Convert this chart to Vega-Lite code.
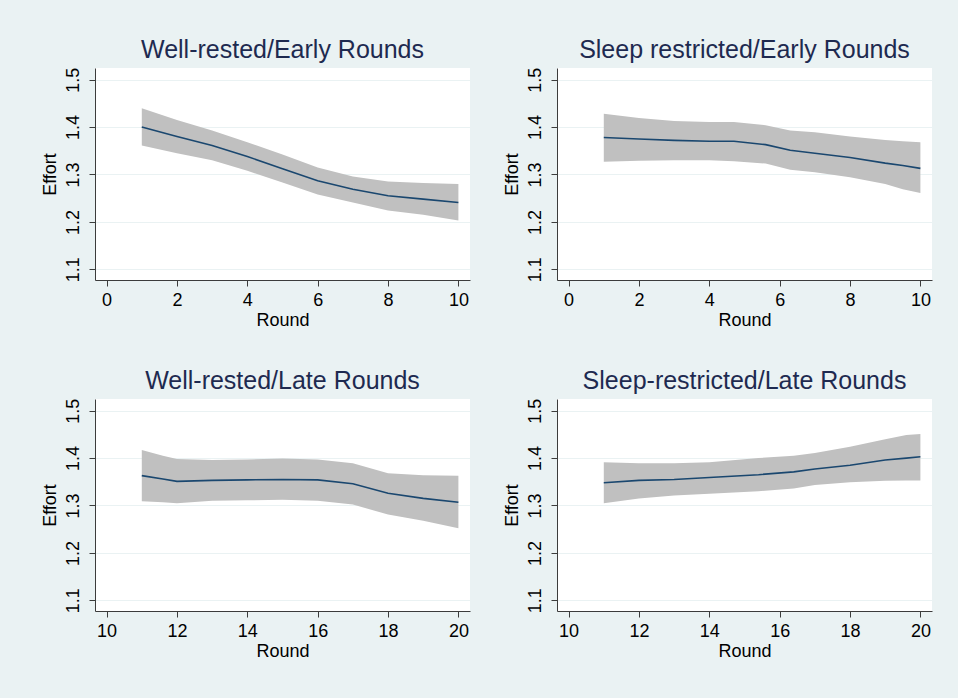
{
  "$schema": "https://vega.github.io/schema/vega-lite/v6.json",
  "background": "#eaf2f3",
  "padding": {"left": 41, "top": 38, "right": 26, "bottom": 40},
  "autosize": {"type": "pad"},
  "datasets": {
    "d": [
      {"panel": "WE", "round": 1, "fit": 1.400, "lo": 1.361, "hi": 1.440},
      {"panel": "WE", "round": 2, "fit": 1.380, "lo": 1.345, "hi": 1.415},
      {"panel": "WE", "round": 3, "fit": 1.361, "lo": 1.330, "hi": 1.393},
      {"panel": "WE", "round": 4, "fit": 1.338, "lo": 1.308, "hi": 1.368},
      {"panel": "WE", "round": 5, "fit": 1.312, "lo": 1.283, "hi": 1.342},
      {"panel": "WE", "round": 6, "fit": 1.287, "lo": 1.258, "hi": 1.315},
      {"panel": "WE", "round": 7, "fit": 1.269, "lo": 1.241, "hi": 1.296},
      {"panel": "WE", "round": 8, "fit": 1.255, "lo": 1.224, "hi": 1.285},
      {"panel": "WE", "round": 9, "fit": 1.248, "lo": 1.215, "hi": 1.282},
      {"panel": "WE", "round": 10, "fit": 1.241, "lo": 1.203, "hi": 1.280},

      {"panel": "SE", "round": 1, "fit": 1.378, "lo": 1.327, "hi": 1.428},
      {"panel": "SE", "round": 2, "fit": 1.375, "lo": 1.329, "hi": 1.419},
      {"panel": "SE", "round": 3, "fit": 1.372, "lo": 1.330, "hi": 1.413},
      {"panel": "SE", "round": 4, "fit": 1.370, "lo": 1.330, "hi": 1.411},
      {"panel": "SE", "round": 4.7, "fit": 1.370, "lo": 1.328, "hi": 1.411},
      {"panel": "SE", "round": 5.6, "fit": 1.363, "lo": 1.323, "hi": 1.404},
      {"panel": "SE", "round": 6.3, "fit": 1.351, "lo": 1.310, "hi": 1.393},
      {"panel": "SE", "round": 7, "fit": 1.345, "lo": 1.305, "hi": 1.389},
      {"panel": "SE", "round": 8, "fit": 1.336, "lo": 1.294, "hi": 1.380},
      {"panel": "SE", "round": 9, "fit": 1.324, "lo": 1.280, "hi": 1.373},
      {"panel": "SE", "round": 9.5, "fit": 1.319, "lo": 1.269, "hi": 1.370},
      {"panel": "SE", "round": 10, "fit": 1.313, "lo": 1.261, "hi": 1.368},

      {"panel": "WL", "round": 11, "fit": 1.363, "lo": 1.309, "hi": 1.417},
      {"panel": "WL", "round": 11.6, "fit": 1.356, "lo": 1.307, "hi": 1.405},
      {"panel": "WL", "round": 12, "fit": 1.351, "lo": 1.305, "hi": 1.398},
      {"panel": "WL", "round": 13, "fit": 1.353, "lo": 1.310, "hi": 1.396},
      {"panel": "WL", "round": 14, "fit": 1.354, "lo": 1.311, "hi": 1.397},
      {"panel": "WL", "round": 15, "fit": 1.355, "lo": 1.312, "hi": 1.399},
      {"panel": "WL", "round": 16, "fit": 1.354, "lo": 1.310, "hi": 1.397},
      {"panel": "WL", "round": 17, "fit": 1.346, "lo": 1.302, "hi": 1.389},
      {"panel": "WL", "round": 18, "fit": 1.326, "lo": 1.281, "hi": 1.368},
      {"panel": "WL", "round": 19, "fit": 1.315, "lo": 1.268, "hi": 1.364},
      {"panel": "WL", "round": 20, "fit": 1.307, "lo": 1.252, "hi": 1.363},

      {"panel": "SL", "round": 11, "fit": 1.348, "lo": 1.305, "hi": 1.391},
      {"panel": "SL", "round": 12, "fit": 1.353, "lo": 1.315, "hi": 1.389},
      {"panel": "SL", "round": 13, "fit": 1.355, "lo": 1.321, "hi": 1.389},
      {"panel": "SL", "round": 14, "fit": 1.359, "lo": 1.325, "hi": 1.391},
      {"panel": "SL", "round": 15.4, "fit": 1.365, "lo": 1.330, "hi": 1.400},
      {"panel": "SL", "round": 16.4, "fit": 1.371, "lo": 1.336, "hi": 1.405},
      {"panel": "SL", "round": 17, "fit": 1.377, "lo": 1.343, "hi": 1.411},
      {"panel": "SL", "round": 18, "fit": 1.385, "lo": 1.349, "hi": 1.424},
      {"panel": "SL", "round": 19, "fit": 1.396, "lo": 1.352, "hi": 1.440},
      {"panel": "SL", "round": 19.6, "fit": 1.400, "lo": 1.353, "hi": 1.449},
      {"panel": "SL", "round": 20, "fit": 1.403, "lo": 1.353, "hi": 1.451}
    ]
  },
  "config": {
    "font": "Liberation Sans",
    "view": {"stroke": null, "fill": "white"},
    "axis": {
      "domainColor": "#3c3c3c",
      "tickColor": "#3c3c3c",
      "tickSize": 6,
      "labelFontSize": 18,
      "titleFontSize": 18,
      "labelColor": "#000000",
      "titleColor": "#000000",
      "titleFontWeight": "normal",
      "labelFlush": false,
      "labelOverlap": false
    },
    "axisX": {"grid": false, "labelPadding": 5, "titlePadding": 2},
    "axisY": {"grid": true, "gridColor": "#eaf2f3", "gridWidth": 1.2, "labelAngle": 270, "labelAlign": "center", "labelBaseline": "bottom", "labelPadding": 7, "titlePadding": 5},
    "title": {"fontSize": 25, "color": "#1e2a50", "fontWeight": "normal", "anchor": "middle", "offset": 4}
  },
  "columns": 2,
  "spacing": {"row": 40, "column": 33},
  "concat": [
    {
      "width": 375, "height": 212,
      "title": "Well-rested/Early Rounds",
      "data": {"name": "d"},
      "transform": [{"filter": "datum.panel == 'WE'"}],
      "encoding": {"x": {"field": "round", "type": "quantitative", "scale": {"domain": [-0.33, 10.33], "nice": false, "zero": false}, "axis": {"values": [0, 2, 4, 6, 8, 10], "title": "Round"}}},
      "layer": [
        {"mark": {"type": "area", "color": "#c0c0c0", "opacity": 1}, "encoding": {"y": {"field": "lo", "type": "quantitative", "scale": {"domain": [1.0774, 1.5247], "nice": false, "zero": false}, "axis": {"values": [1.1, 1.2, 1.3, 1.4, 1.5], "title": "Effort"}}, "y2": {"field": "hi"}}},
        {"mark": {"type": "line", "color": "#1a476f", "strokeWidth": 1.6}, "encoding": {"y": {"field": "fit", "type": "quantitative"}}}
      ]
    },
    {
      "width": 375, "height": 212,
      "title": "Sleep restricted/Early Rounds",
      "data": {"name": "d"},
      "transform": [{"filter": "datum.panel == 'SE'"}],
      "encoding": {"x": {"field": "round", "type": "quantitative", "scale": {"domain": [-0.33, 10.33], "nice": false, "zero": false}, "axis": {"values": [0, 2, 4, 6, 8, 10], "title": "Round"}}},
      "layer": [
        {"mark": {"type": "area", "color": "#c0c0c0", "opacity": 1}, "encoding": {"y": {"field": "lo", "type": "quantitative", "scale": {"domain": [1.0774, 1.5247], "nice": false, "zero": false}, "axis": {"values": [1.1, 1.2, 1.3, 1.4, 1.5], "title": "Effort"}}, "y2": {"field": "hi"}}},
        {"mark": {"type": "line", "color": "#1a476f", "strokeWidth": 1.6}, "encoding": {"y": {"field": "fit", "type": "quantitative"}}}
      ]
    },
    {
      "width": 375, "height": 212,
      "title": "Well-rested/Late Rounds",
      "data": {"name": "d"},
      "transform": [{"filter": "datum.panel == 'WL'"}],
      "encoding": {"x": {"field": "round", "type": "quantitative", "scale": {"domain": [9.67, 20.33], "nice": false, "zero": false}, "axis": {"values": [10, 12, 14, 16, 18, 20], "title": "Round"}}},
      "layer": [
        {"mark": {"type": "area", "color": "#c0c0c0", "opacity": 1}, "encoding": {"y": {"field": "lo", "type": "quantitative", "scale": {"domain": [1.0774, 1.5247], "nice": false, "zero": false}, "axis": {"values": [1.1, 1.2, 1.3, 1.4, 1.5], "title": "Effort"}}, "y2": {"field": "hi"}}},
        {"mark": {"type": "line", "color": "#1a476f", "strokeWidth": 1.6}, "encoding": {"y": {"field": "fit", "type": "quantitative"}}}
      ]
    },
    {
      "width": 375, "height": 212,
      "title": "Sleep-restricted/Late Rounds",
      "data": {"name": "d"},
      "transform": [{"filter": "datum.panel == 'SL'"}],
      "encoding": {"x": {"field": "round", "type": "quantitative", "scale": {"domain": [9.67, 20.33], "nice": false, "zero": false}, "axis": {"values": [10, 12, 14, 16, 18, 20], "title": "Round"}}},
      "layer": [
        {"mark": {"type": "area", "color": "#c0c0c0", "opacity": 1}, "encoding": {"y": {"field": "lo", "type": "quantitative", "scale": {"domain": [1.0774, 1.5247], "nice": false, "zero": false}, "axis": {"values": [1.1, 1.2, 1.3, 1.4, 1.5], "title": "Effort"}}, "y2": {"field": "hi"}}},
        {"mark": {"type": "line", "color": "#1a476f", "strokeWidth": 1.6}, "encoding": {"y": {"field": "fit", "type": "quantitative"}}}
      ]
    }
  ]
}
